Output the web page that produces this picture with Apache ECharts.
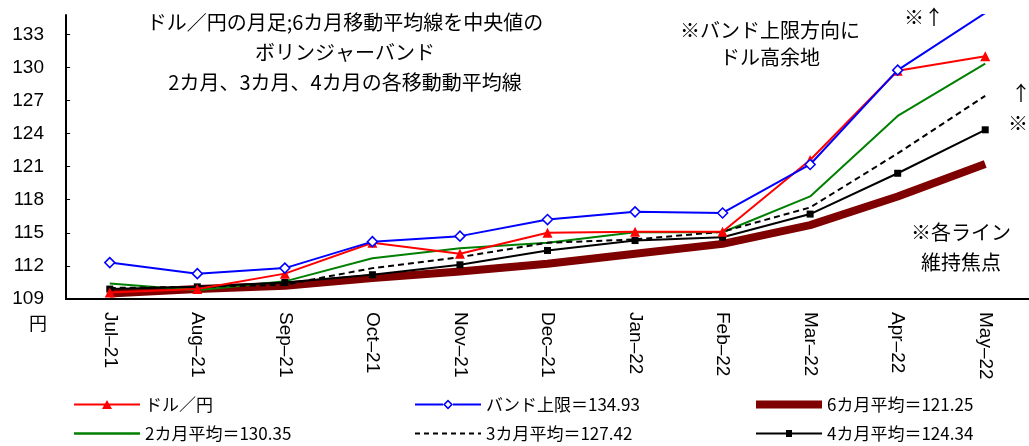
<!DOCTYPE html>
<html>
<head>
<meta charset="utf-8">
<script src="https://cdn.jsdelivr.net/npm/echarts@6/dist/echarts.min.js"></script>
<style>
  html, body { margin: 0; padding: 0; background: #fff; }
  #main { width: 1029px; height: 446px; }
</style>
</head>
<body>
<div id="main"></div>
<script>
var months = ['Jul–21', 'Aug–21', 'Sep–21', 'Oct–21', 'Nov–21', 'Dec–21', 'Jan–22', 'Feb–22', 'Mar–22', 'Apr–22', 'May–22'];

var usdJpy   = [109.6, 109.9, 111.3, 114.1, 113.1, 115.0, 115.1, 115.1, 121.6, 129.7, 131.0];
var bandUp   = [112.3, 111.3, 111.8, 114.2, 114.7, 116.2, 116.9, 116.8, 121.2, 129.75, 134.93];
var avg6     = [109.5, 109.9, 110.2, 110.9, 111.5, 112.2, 113.1, 114.0, 115.7, 118.3, 121.25];
var avg2     = [110.4, 109.8, 110.6, 112.7, 113.6, 114.1, 115.05, 115.05, 118.3, 125.6, 130.35];
var avg3     = [110.0, 110.1, 110.3, 111.8, 112.8, 114.1, 114.4, 115.1, 117.3, 122.2, 127.42];
var avg4     = [109.9, 110.1, 110.5, 111.2, 112.1, 113.4, 114.3, 114.6, 116.7, 120.4, 124.34];

var myChart = echarts.init(document.getElementById('main'));
var jp = '"Noto Sans CJK JP", sans-serif';
var num = '"Liberation Sans", Arial, sans-serif';

// legend icons drawn in a 66x10 box
var icons = {
    red: 'path://M0,4h66v2h-66z M28,9.5L33,0.5L38,9.5Z',
    blue: 'path://M0,4h28v2h-28z M38,4h28v2h-28z M33,0L38,5L33,10L28,5Z M33,2.2L30.2,5L33,7.8L35.8,5Z',
    dark: 'path://M0,1h66v8h-66z',
    green: 'path://M0,3.8h66v2.4h-66z',
    dash: 'path://M0,4h5v2h-5z M9,4h5v2h-5z M18,4h5v2h-5z M27,4h5v2h-5z M36,4h5v2h-5z M45,4h5v2h-5z M54,4h5v2h-5z M63,4h3v2h-3z',
    black: 'path://M0,4h66v2h-66z M30,1.5h6v7h-6z'
};

function legendAt(left, top, name, icon, color) {
    return {
        left: left, top: top, padding: 0,
        itemWidth: 66, itemHeight: 10, itemGap: 6,
        selectedMode: false,
        textStyle: { color: '#000', fontSize: 17, fontFamily: jp },
        data: [{ name: name, icon: icon, itemStyle: { color: color, borderWidth: 0 } }]
    };
}

var option = {
    animation: false,
    grid: {
        left: 66,
        right: -10,
        top: 15,
        bottom: 147
    },
    xAxis: {
        type: 'category',
        data: months,
        boundaryGap: true,
        axisLine: { lineStyle: { color: '#000', width: 2 } },
        axisTick: { show: false },
        axisLabel: {
            rotate: -90,
            color: '#000',
            fontSize: 19,
            fontFamily: num,
            margin: 13,
            interval: 0
        }
    },
    yAxis: {
        type: 'value',
        min: 109,
        max: 134.75,
        interval: 3,
        splitLine: { show: false },
        axisLine: { show: true, lineStyle: { color: '#000', width: 2 } },
        axisTick: { show: true, inside: true, length: 4, lineStyle: { color: '#000' } },
        axisLabel: {
            color: '#000',
            fontSize: 19,
            fontFamily: num,
            margin: 22,
            showMaxLabel: false
        }
    },
    legend: [
        legendAt(74, 396, 'ドル／円', icons.red, '#ff0000'),
        legendAt(74, 425, '2カ月平均＝130.35', icons.green, '#008000'),
        legendAt(415, 396, 'バンド上限＝134.93', icons.blue, '#0000ff'),
        legendAt(415, 425, '3カ月平均＝127.42', icons.dash, '#000'),
        legendAt(756, 396, '6カ月平均＝121.25', icons.dark, '#7f0000'),
        legendAt(756, 425, '4カ月平均＝124.34', icons.black, '#000')
    ],
    graphic: [
        { type: 'text', left: 29, top: 314, style: { text: '円', fontSize: 18, fontFamily: jp, fill: '#000' } },
        { type: 'text', x: 345, y: 7, style: { text: 'ドル／円の月足;6カ月移動平均線を中央値の\nボリンジャーバンド\n2カ月、3カ月、4カ月の各移動動平均線', fontSize: 20, lineHeight: 30, align: 'center', fontFamily: jp, fill: '#000' } },
        { type: 'text', x: 770, y: 17, style: { text: '※バンド上限方向に\nドル高余地', fontSize: 20, lineHeight: 27, align: 'center', fontFamily: jp, fill: '#000' } },
        { type: 'text', x: 904, y: 7, style: { text: '※↑', fontSize: 20, fontFamily: jp, fill: '#000' } },
        { type: 'text', x: 1011, y: 83, style: { text: '↑', fontSize: 20, fontFamily: jp, fill: '#000' } },
        { type: 'text', x: 1008, y: 113, style: { text: '※', fontSize: 20, fontFamily: jp, fill: '#000' } },
        { type: 'text', x: 961, y: 217, style: { text: '※各ライン\n維持焦点', fontSize: 20, lineHeight: 30, align: 'center', fontFamily: jp, fill: '#000' } }
    ],
    series: [
        {
            name: '6カ月平均＝121.25',
            type: 'line',
            data: avg6,
            symbol: 'none',
            lineStyle: { color: '#7f0000', width: 8 },
            itemStyle: { color: '#7f0000' },
            z: 1
        },
        {
            name: '2カ月平均＝130.35',
            type: 'line',
            data: avg2,
            symbol: 'none',
            lineStyle: { color: '#008000', width: 2 },
            itemStyle: { color: '#008000' },
            z: 2
        },
        {
            name: '3カ月平均＝127.42',
            type: 'line',
            data: avg3,
            symbol: 'none',
            lineStyle: { color: '#000', width: 2, type: [6, 4] },
            itemStyle: { color: '#000' },
            z: 3
        },
        {
            name: '4カ月平均＝124.34',
            type: 'line',
            data: avg4,
            symbol: 'rect',
            symbolSize: 7,
            lineStyle: { color: '#000', width: 2 },
            itemStyle: { color: '#000' },
            z: 4
        },
        {
            name: 'ドル／円',
            type: 'line',
            data: usdJpy,
            symbol: 'triangle',
            symbolSize: 10,
            lineStyle: { color: '#ff0000', width: 2 },
            itemStyle: { color: '#ff0000' },
            z: 5
        },
        {
            name: 'バンド上限＝134.93',
            type: 'line',
            data: bandUp,
            symbol: 'diamond',
            symbolSize: 10,
            showAllSymbol: true,
            lineStyle: { color: '#0000ff', width: 2 },
            itemStyle: { color: '#fff', borderColor: '#0000ff', borderWidth: 1.5 },
            z: 6
        }
    ]
};

option && myChart.setOption(option);
</script>
</body>
</html>
